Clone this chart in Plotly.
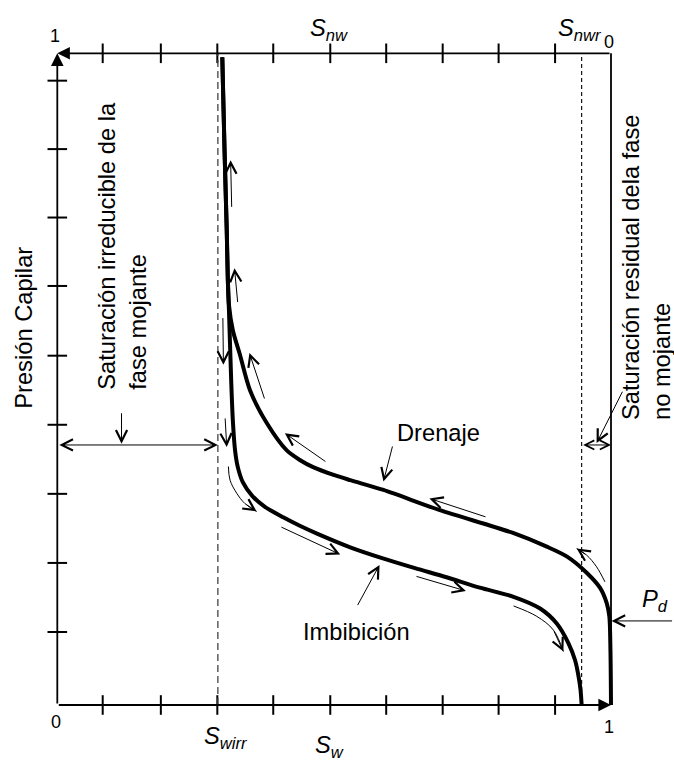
import plotly.graph_objects as go

# ---------------- data (normalised: S_w on x, capillary pressure on y) ----------------
drain_sw = [0.298, 0.302, 0.306, 0.308, 0.310, 0.317, 0.330, 0.348, 0.378, 0.414, 0.438, 0.462,
            0.499, 0.529, 0.589, 0.691, 0.823, 0.884, 0.920, 0.956, 0.980, 0.992, 0.997, 0.999, 1.000]
drain_pc = [0.994, 0.852, 0.729, 0.652, 0.614, 0.575, 0.537, 0.483, 0.433, 0.391, 0.376, 0.365,
            0.353, 0.345, 0.330, 0.299, 0.264, 0.243, 0.228, 0.203, 0.180, 0.157, 0.136, 0.084, 0.000]

imb_sw = [0.298, 0.302, 0.306, 0.308, 0.310, 0.314, 0.317, 0.321, 0.326, 0.335, 0.352, 0.375, 0.408,
          0.438, 0.469, 0.529, 0.588, 0.646, 0.703, 0.763, 0.824, 0.872, 0.902, 0.923, 0.935, 0.942,
          0.945, 0.947]
imb_pc = [0.994, 0.852, 0.729, 0.652, 0.606, 0.499, 0.437, 0.391, 0.365, 0.342, 0.321, 0.304, 0.288,
          0.275, 0.263, 0.242, 0.225, 0.210, 0.196, 0.180, 0.166, 0.148, 0.125, 0.095, 0.069, 0.041,
          0.023, 0.000]

s_wirr = 0.29
s_nwr_line = 0.947

x_ticks = [0.082, 0.187, 0.289, 0.390, 0.493, 0.594, 0.696, 0.797, 0.899]
y_ticks = [0.112, 0.218, 0.324, 0.430, 0.536, 0.643, 0.748, 0.853, 0.958]

# straight direction arrows along the curves: (tail_x, tail_y, head_x, head_y)
flow_arrows = [
    (0.315, 0.762, 0.313, 0.836),
    (0.326, 0.616, 0.320, 0.670),
    (0.299, 0.596, 0.300, 0.522),
    (0.375, 0.468, 0.347, 0.540),
    (0.303, 0.442, 0.306, 0.396),
    (0.487, 0.372, 0.411, 0.417),
    (0.776, 0.288, 0.672, 0.317),
    (0.402, 0.274, 0.511, 0.231),
    (0.646, 0.198, 0.738, 0.175),
]

# curved direction arrows (polyline, last point is the head)
curved_arrows = [
    ([0.309, 0.312, 0.324, 0.339, 0.360], [0.366, 0.345, 0.325, 0.309, 0.297]),
    ([0.989, 0.974, 0.956, 0.938], [0.189, 0.212, 0.230, 0.240]),
    ([0.824, 0.866, 0.896, 0.914], [0.152, 0.136, 0.115, 0.082]),
]

FONT = "Arial, Liberation Sans, sans-serif"
LBL = 23.7

fig = go.Figure()

# curves
for sx, py in ((drain_sw, drain_pc), (imb_sw, imb_pc)):
    fig.add_trace(go.Scatter(x=sx, y=py, mode="lines",
                             line=dict(color="black", width=4, shape="spline", smoothing=0.8),
                             hoverinfo="skip", showlegend=False))

# curved arrow bodies
for cx, cy in curved_arrows:
    fig.add_trace(go.Scatter(x=cx, y=cy, mode="lines",
                             line=dict(color="black", width=1, shape="spline", smoothing=1),
                             hoverinfo="skip", showlegend=False))

# tick marks crossing the axes
fig.add_trace(go.Scatter(x=x_ticks + x_ticks, y=[0] * len(x_ticks) + [1] * len(x_ticks),
                         mode="markers", cliponaxis=False,
                         marker=dict(symbol="line-ns", size=14, line=dict(color="black", width=2)),
                         hoverinfo="skip", showlegend=False))
fig.add_trace(go.Scatter(x=[0] * len(y_ticks), y=y_ticks, mode="markers", cliponaxis=False,
                         marker=dict(symbol="line-ew", size=14, line=dict(color="black", width=2)),
                         hoverinfo="skip", showlegend=False))

shapes = [
    dict(type="line", xref="x", yref="y", x0=1, x1=1, y0=0, y1=1,
         line=dict(color="black", width=1.8)),
    dict(type="line", xref="x", yref="y", x0=s_wirr, x1=s_wirr, y0=0, y1=1,
         line=dict(color="#444444", width=1.3, dash="7px,4px")),
    dict(type="line", xref="x", yref="y", x0=s_nwr_line, x1=s_nwr_line, y0=0, y1=1,
         line=dict(color="black", width=1.1, dash="4px,3px")),
]

ann = []


def arrow(tx, ty, hx, hy, head=5, width=1.0, size=2.2, side="end"):
    ann.append(dict(x=hx, y=hy, ax=tx, ay=ty, xref="x", yref="y", axref="x", ayref="y",
                    showarrow=True, arrowhead=head, startarrowhead=head, arrowside=side,
                    arrowwidth=width, arrowsize=size, startarrowsize=size,
                    arrowcolor="black", text=""))


# axes with arrows
arrow(0, 0, 0, 1, head=2, width=1.8, size=1.4)
arrow(1, 1, 0, 1, head=2, width=1.8, size=1.4)
arrow(0, 0, 1, 0, head=2, width=1.8, size=1.4)

for a in flow_arrows:
    arrow(*a)
for cx, cy in curved_arrows:
    arrow(cx[-2], cy[-2], cx[-1], cy[-1])

# label arrows
arrow(0.606, 0.399, 0.589, 0.343)          # Drenaje
arrow(0.541, 0.151, 0.582, 0.215)          # Imbibición
arrow(0.116, 0.450, 0.116, 0.401)          # S_wirr label
arrow(0.001, 0.399, 0.290, 0.399, side="end+start")
arrow(1.022, 0.483, 0.974, 0.402)          # S_nwr label
arrow(0.947, 0.399, 1.000, 0.399, side="end+start", size=1.8)
arrow(1.113, 0.129, 1.001, 0.129)          # P_d


def text(x, y, t, size=LBL, angle=0, xa="center", ya="middle", align="center"):
    ann.append(dict(x=x, y=y, xref="x", yref="y", text=t, showarrow=False,
                    textangle=angle, xanchor=xa, yanchor=ya, align=align,
                    font=dict(family=FONT, size=size, color="black")))


text(0.688, 0.417, "Drenaje")
text(0.541, 0.1125, "Imbibición")
text(1.080, 0.160, "<i>P</i><sub><i>d</i></sub>")
text(-0.060, 0.579, "Presión Capilar", angle=-90)
text(0.118, 0.480, "Saturación irreducible de la<br>fase mojante", angle=-90, ya="bottom",
     align="left")
text(1.063, 0.434, "Saturación residual dela fase<br>no mojante", angle=-90, ya="bottom",
     align="left")
text(0.491, 1.036, "<i>S</i><sub><i>nw</i></sub>")
text(0.944, 1.036, "<i>S</i><sub><i>nwr</i></sub>")
text(0.305, -0.050, "<i>S</i><sub><i>wirr</i></sub>")
text(0.492, -0.065, "<i>S</i><sub><i>w</i></sub>")
text(-0.003, -0.026, "0", size=18)
text(0.997, -0.033, "1", size=18)
text(-0.004, 1.026, "1", size=18)
text(0.997, 1.018, "0", size=18)

# axis ranges chosen so that S_w = 0..1 spans pixels 57..611 and Pc = 0..1 spans 705..53
W, H = 674, 764
X0, X1, Y0, Y1 = 57.3, 611.0, 705.0, 53.3
xr = [-X0 / (X1 - X0), (W - X0) / (X1 - X0)]
yr = [-(H - Y0) / (Y0 - Y1), Y0 / (Y0 - Y1)]

fig.update_layout(
    width=W, height=H,
    margin=dict(l=0, r=0, t=0, b=0, pad=0),
    paper_bgcolor="white", plot_bgcolor="white",
    xaxis=dict(range=xr, visible=False, fixedrange=True),
    yaxis=dict(range=yr, visible=False, fixedrange=True),
    shapes=shapes, annotations=ann, showlegend=False,
    font=dict(family=FONT),
)

fig.write_html("out.html", config={"displayModeBar": False, "staticPlot": True},
               post_script="document.body.style.margin='0px';")
